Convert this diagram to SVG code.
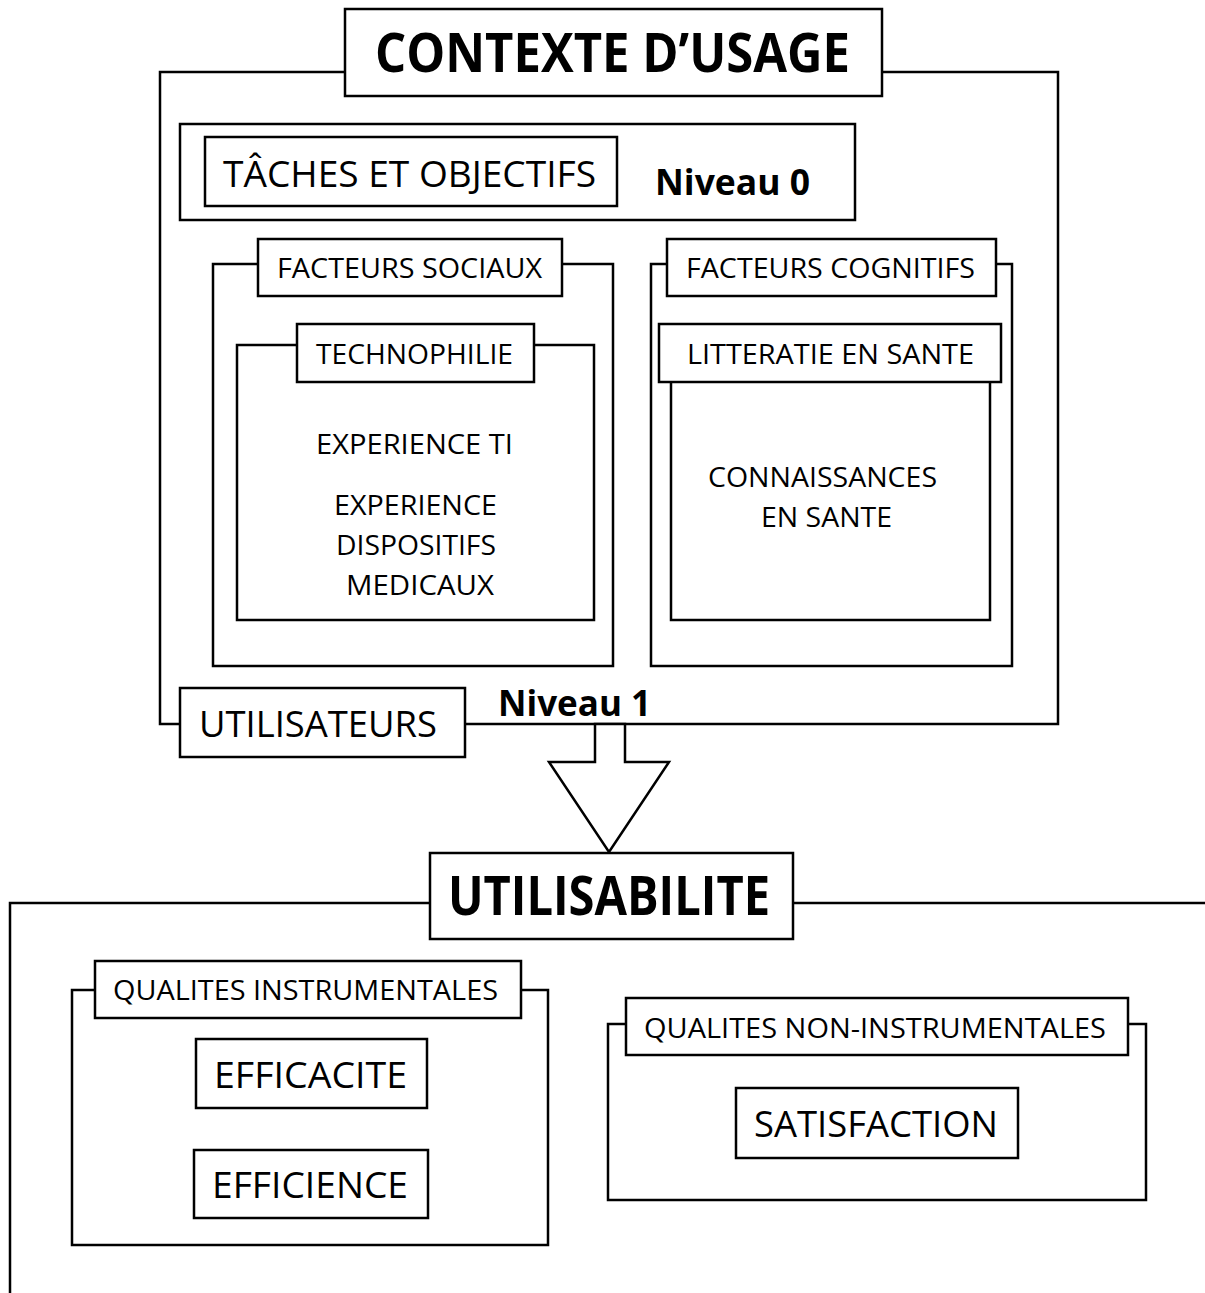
<svg xmlns="http://www.w3.org/2000/svg" width="1205" height="1293" viewBox="0 0 1205 1293">
<style>
.b{fill:#fff;stroke:#000;stroke-width:2.5}
.f{fill:none;stroke:#000;stroke-width:2.5}
text{font-family:"Open Sans","Liberation Sans",sans-serif;fill:#000}
.s{font-size:27px}
.m{font-size:37px}
.t{font-size:54px;font-weight:bold}
.n{font-size:36px;font-weight:bold}
</style>
<rect width="1205" height="1293" fill="#fff"/>
<g id="connectors">
<path class="f" d="M345 72H160V724H180M465 724H1058V72H882"/>
<path class="f" d="M430 903H10V1293M793 903H1205"/>
<polygon class="b" points="595,724 625,724 625,762 669,762 609,852 549,762 595,762"/>
</g>
<g id="contexte">
<rect class="b" x="345" y="9" width="537" height="87"/>
<text class="t" x="375" y="72" textLength="475" lengthAdjust="spacingAndGlyphs">CONTEXTE D’USAGE</text>
</g>
<g id="niveau0">
<rect class="b" x="180" y="124" width="675" height="96"/>
<text class="n" x="655" y="195" textLength="155" lengthAdjust="spacingAndGlyphs">Niveau 0</text>
</g>
<g id="taches">
<rect class="b" x="205" y="137" width="412" height="69"/>
<text class="m" x="223" y="187" textLength="373" lengthAdjust="spacingAndGlyphs">TÂCHES ET OBJECTIFS</text>
</g>
<g id="sociaux">
<rect class="b" x="213" y="264" width="400" height="402"/>
<rect class="b" x="258" y="239" width="304" height="57"/>
<text class="s" x="277" y="278" textLength="265" lengthAdjust="spacingAndGlyphs">FACTEURS SOCIAUX</text>
</g>
<g id="technophilie">
<rect class="b" x="237" y="345" width="357" height="275"/>
<rect class="b" x="297" y="324" width="237" height="58"/>
<text class="s" x="316" y="364" textLength="197" lengthAdjust="spacingAndGlyphs">TECHNOPHILIE</text>
<text class="s" x="316" y="454" textLength="197" lengthAdjust="spacingAndGlyphs">EXPERIENCE TI</text>
<text class="s" x="334" y="515" textLength="163" lengthAdjust="spacingAndGlyphs">EXPERIENCE</text>
<text class="s" x="336" y="555" textLength="160" lengthAdjust="spacingAndGlyphs">DISPOSITIFS</text>
<text class="s" x="346" y="595" textLength="148" lengthAdjust="spacingAndGlyphs">MEDICAUX</text>
</g>
<g id="cognitifs">
<rect class="b" x="651" y="264" width="361" height="402"/>
<rect class="b" x="667" y="239" width="329" height="57"/>
<text class="s" x="686" y="278" textLength="289" lengthAdjust="spacingAndGlyphs">FACTEURS COGNITIFS</text>
</g>
<g id="litteratie">
<rect class="b" x="671" y="370" width="319" height="250"/>
<rect class="b" x="659" y="324" width="342" height="58"/>
<text class="s" x="687" y="364" textLength="287" lengthAdjust="spacingAndGlyphs">LITTERATIE EN SANTE</text>
<text class="s" x="708" y="487" textLength="229" lengthAdjust="spacingAndGlyphs">CONNAISSANCES</text>
<text class="s" x="761" y="527" textLength="131" lengthAdjust="spacingAndGlyphs">EN SANTE</text>
</g>
<g id="utilisateurs">
<rect class="b" x="180" y="688" width="285" height="69"/>
<text class="m" x="199" y="737" textLength="238" lengthAdjust="spacingAndGlyphs">UTILISATEURS</text>
</g>
<g id="niveau1">
<text class="n" x="498" y="716" textLength="153" lengthAdjust="spacingAndGlyphs">Niveau 1</text>
</g>
<g id="utilisabilite">
<rect class="b" x="430" y="853" width="363" height="86"/>
<text class="t" x="448" y="915" textLength="322" lengthAdjust="spacingAndGlyphs">UTILISABILITE</text>
</g>
<g id="instrumentales">
<rect class="b" x="72" y="990" width="476" height="255"/>
<rect class="b" x="95" y="961" width="426" height="57"/>
<text class="s" x="113" y="1000" textLength="385" lengthAdjust="spacingAndGlyphs">QUALITES INSTRUMENTALES</text>
</g>
<g id="efficacite">
<rect class="b" x="196" y="1039" width="231" height="69"/>
<text class="m" x="214" y="1088" textLength="193" lengthAdjust="spacingAndGlyphs">EFFICACITE</text>
</g>
<g id="efficience">
<rect class="b" x="194" y="1150" width="234" height="68"/>
<text class="m" x="212" y="1198" textLength="196" lengthAdjust="spacingAndGlyphs">EFFICIENCE</text>
</g>
<g id="non-instrumentales">
<rect class="b" x="608" y="1024" width="538" height="176"/>
<rect class="b" x="626" y="998" width="502" height="57"/>
<text class="s" x="644" y="1038" textLength="462" lengthAdjust="spacingAndGlyphs">QUALITES NON-INSTRUMENTALES</text>
</g>
<g id="satisfaction">
<rect class="b" x="736" y="1088" width="282" height="70"/>
<text class="m" x="754" y="1137" textLength="244" lengthAdjust="spacingAndGlyphs">SATISFACTION</text>
</g>
</svg>
